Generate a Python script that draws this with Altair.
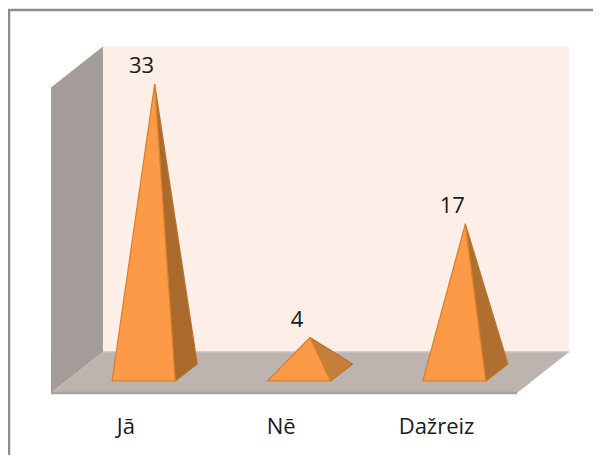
import altair as alt
import pandas as pd

categories = ["Jā", "Nē", "Dažreiz"]
values = [33, 4, 17]
axis_max = 35
side_colors = ["#a96a2c", "#c67f3a", "#ae6f30"]

W, H = 585, 447
# calibration of the oblique projection
X_DOMAIN = [-0.4442, (W - 69) / 155.33]
Y_DOMAIN = [(364.5 - H) / 8.73, 41.75]
FLOOR_DX, FLOOR_DY = 0.1674, 2.35
BASE_DX, BASE_DY = 0.0708, 0.97
BASE_HALF = 0.2028
FONT = "Open Sans"
FS = 22

x_s = alt.Scale(domain=X_DOMAIN, nice=False, zero=False)
y_s = alt.Scale(domain=Y_DOMAIN, nice=False, zero=False)
X = alt.X("x:Q", axis=None, scale=x_s)
Y = alt.Y("y:Q", axis=None, scale=y_s, stack=None)
n = len(categories)

def area(rows, fill, stroke=None, sw=1.3):
    df = pd.DataFrame(rows, columns=["x", "y", "y2"])
    kw = dict(fill=fill, opacity=1, orient="vertical")
    if stroke:
        kw.update(stroke=stroke, strokeWidth=sw, strokeJoin="round")
    return alt.Chart(df).mark_area(**kw).encode(x=X, y=Y, y2="y2:Q")

def line(rows, color, sw):
    df = pd.DataFrame(rows, columns=["x", "y"])
    return alt.Chart(df).mark_line(color=color, strokeWidth=sw).encode(x=X, y=Y)

fl, fb = -FLOOR_DY, FLOOR_DY
back_wall = area([(FLOOR_DX, axis_max + fb, fb), (n + FLOOR_DX, axis_max + fb, fb)], "#fdeee7")
left_wall = area([(-FLOOR_DX, axis_max + fl, fl), (FLOOR_DX, axis_max + fb, fb)], "#a39c98")
floor = area([(-FLOOR_DX, fl, fl), (FLOOR_DX, fb, fl), (n - FLOOR_DX, fb, fl), (n + FLOOR_DX, fb, fb)], "#bdb3af")
edge_back = line([(FLOOR_DX, fb), (n + FLOOR_DX, fb)], "#c9c0bb", 1.5)
edge_front = line([(-FLOOR_DX, fl), (n - FLOOR_DX, fl)], "#a3a3a3", 2.5)

layers = [back_wall, left_wall, floor, edge_back, edge_front]
for i, v in enumerate(values):
    c = i + 0.5
    l, r, br = c - BASE_HALF - BASE_DX, c + BASE_HALF - BASE_DX, c + BASE_HALF + BASE_DX
    # side face: apex, front-right corner, back-right corner
    layers.append(area([(c, v, v), (r, BASE_DY + (v - BASE_DY) * (br - r) / (br - c), -BASE_DY), (br, BASE_DY, BASE_DY)],
                       side_colors[i], "#b8742f"))
    layers.append(area([(l, -BASE_DY, -BASE_DY), (c, v, -BASE_DY), (r, -BASE_DY, -BASE_DY)],
                       "#fd9a47", "#d9822b"))

value_df = pd.DataFrame({"x": [i + 0.5 - 0.084 for i in range(n)],
                         "y": [v + 2.05 for v in values],
                         "t": [str(v) for v in values]})
value_text = alt.Chart(value_df).mark_text(font=FONT, fontSize=FS, color="#1a1a1a", baseline="middle").encode(x=X, y=Y, text="t:N")
cat_df = pd.DataFrame({"x": [i + 0.5 - FLOOR_DX - 0.018 for i in range(n)],
                       "y": [-6.3] * n, "t": categories})
cat_text = alt.Chart(cat_df).mark_text(font=FONT, fontSize=FS, color="#1a1a1a", baseline="middle").encode(x=X, y=Y, text="t:N")

frame_top = alt.Chart(pd.DataFrame({"a": [0]})).mark_rule(color="#8c8c8c", strokeWidth=2.5).encode(
    x=alt.value(0), x2=alt.value(W), y=alt.value(2))
frame_left = alt.Chart(pd.DataFrame({"a": [0]})).mark_rule(color="#8c8c8c", strokeWidth=2.5).encode(
    x=alt.value(1), y=alt.value(1), y2=alt.value(H))

chart = alt.layer(*layers, value_text, cat_text, frame_top, frame_left).properties(
    width=W, height=H, padding=0, background="white",
    autosize=alt.AutoSizeParams(type="none")
).configure_view(stroke=None)
chart.save("out.html", embed_options={"renderer": "svg", "actions": False})
